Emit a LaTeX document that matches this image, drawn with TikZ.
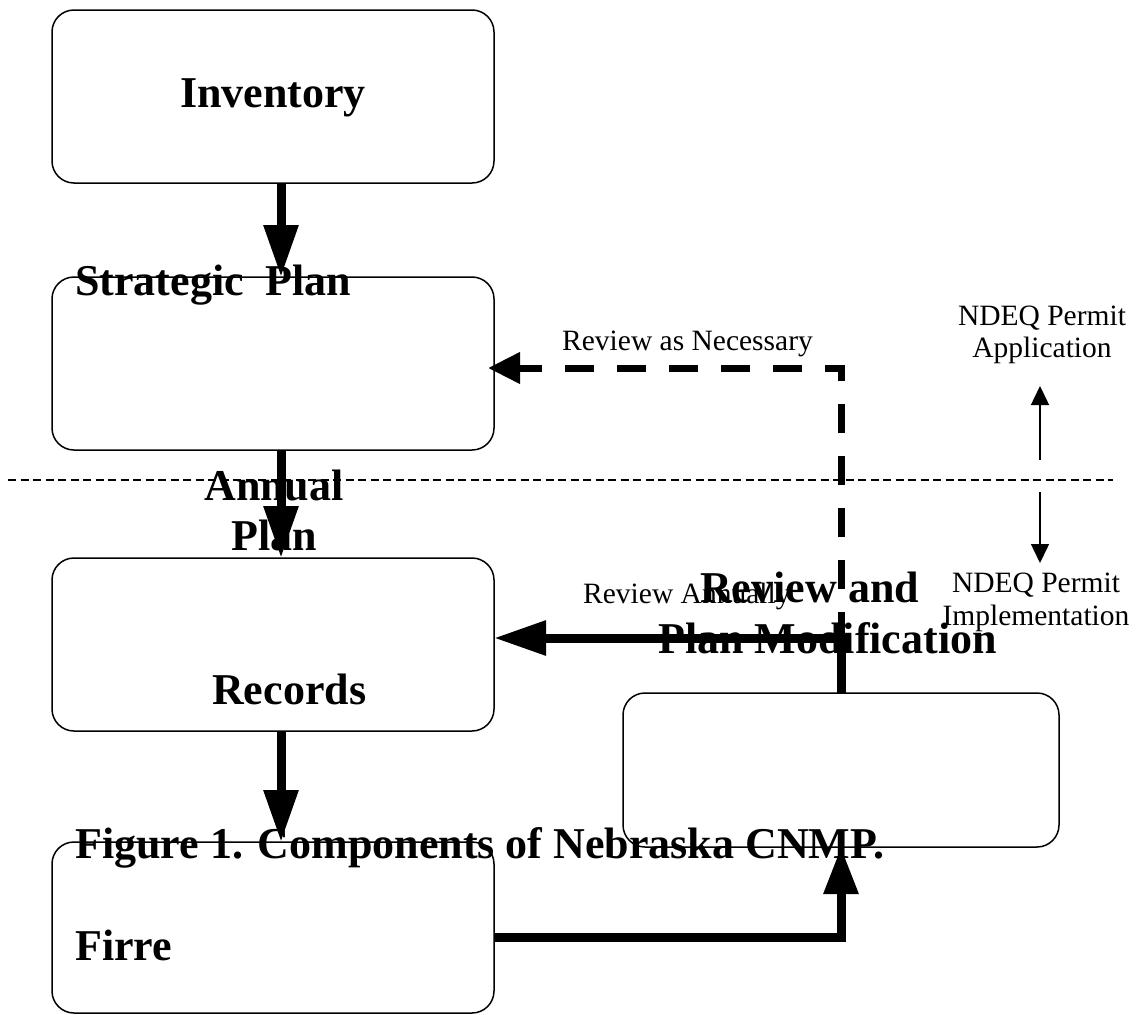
\documentclass[tikz,border=0pt]{standalone}
\usepackage{fontspec}
\setmainfont{Liberation Serif}
\usetikzlibrary{arrows.meta}
\begin{document}
\begin{tikzpicture}[x=1pt,y=-1pt,
  box/.style={draw, line width=1.5pt, rounded corners=22pt, inner sep=0pt, outer sep=0pt},
  bigtxt/.style={font=\bfseries\fontsize{44}{50}\selectfont, inner sep=0pt},
  smalltxt/.style={font=\fontsize{29.5}{32}\selectfont, inner sep=0pt},
  bigarrow/.style={line width=9pt, -{Triangle[length=52pt,width=33pt]}},
  dasharrow/.style={line width=7pt, dash pattern=on 29pt off 23pt, -{Triangle[length=32pt,width=30pt]}},
  thinarrow/.style={line width=1.5pt, -{Triangle[length=19pt,width=18pt]}},
  sepline/.style={line width=1.3pt, dash pattern=on 8pt off 4.5pt}]
\useasboundingbox (0,0) rectangle (1136,1015);

% boxes
\node[box, minimum width=442pt, minimum height=173pt] (inv) at (273,96.5) {};
\node[box, minimum width=442pt, minimum height=173pt] (strat) at (273,363.5) {};
\node[box, minimum width=442pt, minimum height=173pt] (rec) at (273,644.5) {};
\node[box, minimum width=442pt, minimum height=171pt] (fire) at (273,927.5) {};
\node[box, minimum width=436pt, minimum height=154pt] (rev) at (841,770) {};

% separator
\coordinate (sepL) at (8,480);
\coordinate (sepR) at (1113,480);
\draw[sepline] (sepL) -- (sepR);

% texts
\node[bigtxt, anchor=base west] (tinv) at (180,107) {Inventory};
\node[bigtxt, anchor=base west] (tstrat) at (75,295) {Strategic\ \ Plan};
\node[bigtxt, anchor=base] (tann1) at (274,500) {Annual};
\node[bigtxt, anchor=base] (tann2) at (274,550) {Plan};
\node[bigtxt, anchor=base west] (trec) at (212,704) {Records};
\node[bigtxt, anchor=base west] (tcap) at (75,858) {Figure 1. Components of Nebraska CNMP.};
\node[bigtxt, anchor=base west] (tfire) at (75,960) {Firre};
\node[smalltxt, anchor=base west] (tnec) at (562,350) {Review as Necessary};
\node[smalltxt, anchor=base west] (tannually) at (583,603) {Review Annually};
\node[bigtxt, anchor=base west] (trev1) at (700,602) {Review and};
\node[bigtxt, anchor=base west] (trev2) at (658,653) {Plan Modification};
\node[smalltxt, anchor=base] (tapp1) at (1042,325) {NDEQ Permit};
\node[smalltxt, anchor=base] (tapp2) at (1042,357) {Application};
\node[smalltxt, anchor=base] (timp1) at (1036,592) {NDEQ Permit};
\node[smalltxt, anchor=base] (timp2) at (1036,625) {Implementation};

% main arrows
\draw[bigarrow] ([xshift=8pt]inv.south) -- ([xshift=8pt]strat.north);
\draw[bigarrow] ([xshift=8pt]strat.south) -- ([xshift=8pt]rec.north);
\draw[bigarrow] ([xshift=8pt]rec.south) -- ([xshift=8pt]fire.north);
\draw[line width=9pt, -{Triangle[length=47pt,width=33pt]}] ([yshift=-9.5pt]fire.east) -| (rev.south);
\draw[bigarrow] (rev.north) |- ([yshift=6.5pt]rec.east);
\draw[dasharrow] (rev.north) |- ([xshift=-6pt,yshift=-4.5pt]strat.east);

% permit arrows
\coordinate (upS) at (1040,460);
\coordinate (upE) at (1040,386);
\coordinate (dnS) at (1040,492);
\coordinate (dnE) at (1040,563);
\draw[thinarrow] (upS) -- (upE);
\draw[thinarrow] (dnS) -- (dnE);
\end{tikzpicture}
\end{document}
